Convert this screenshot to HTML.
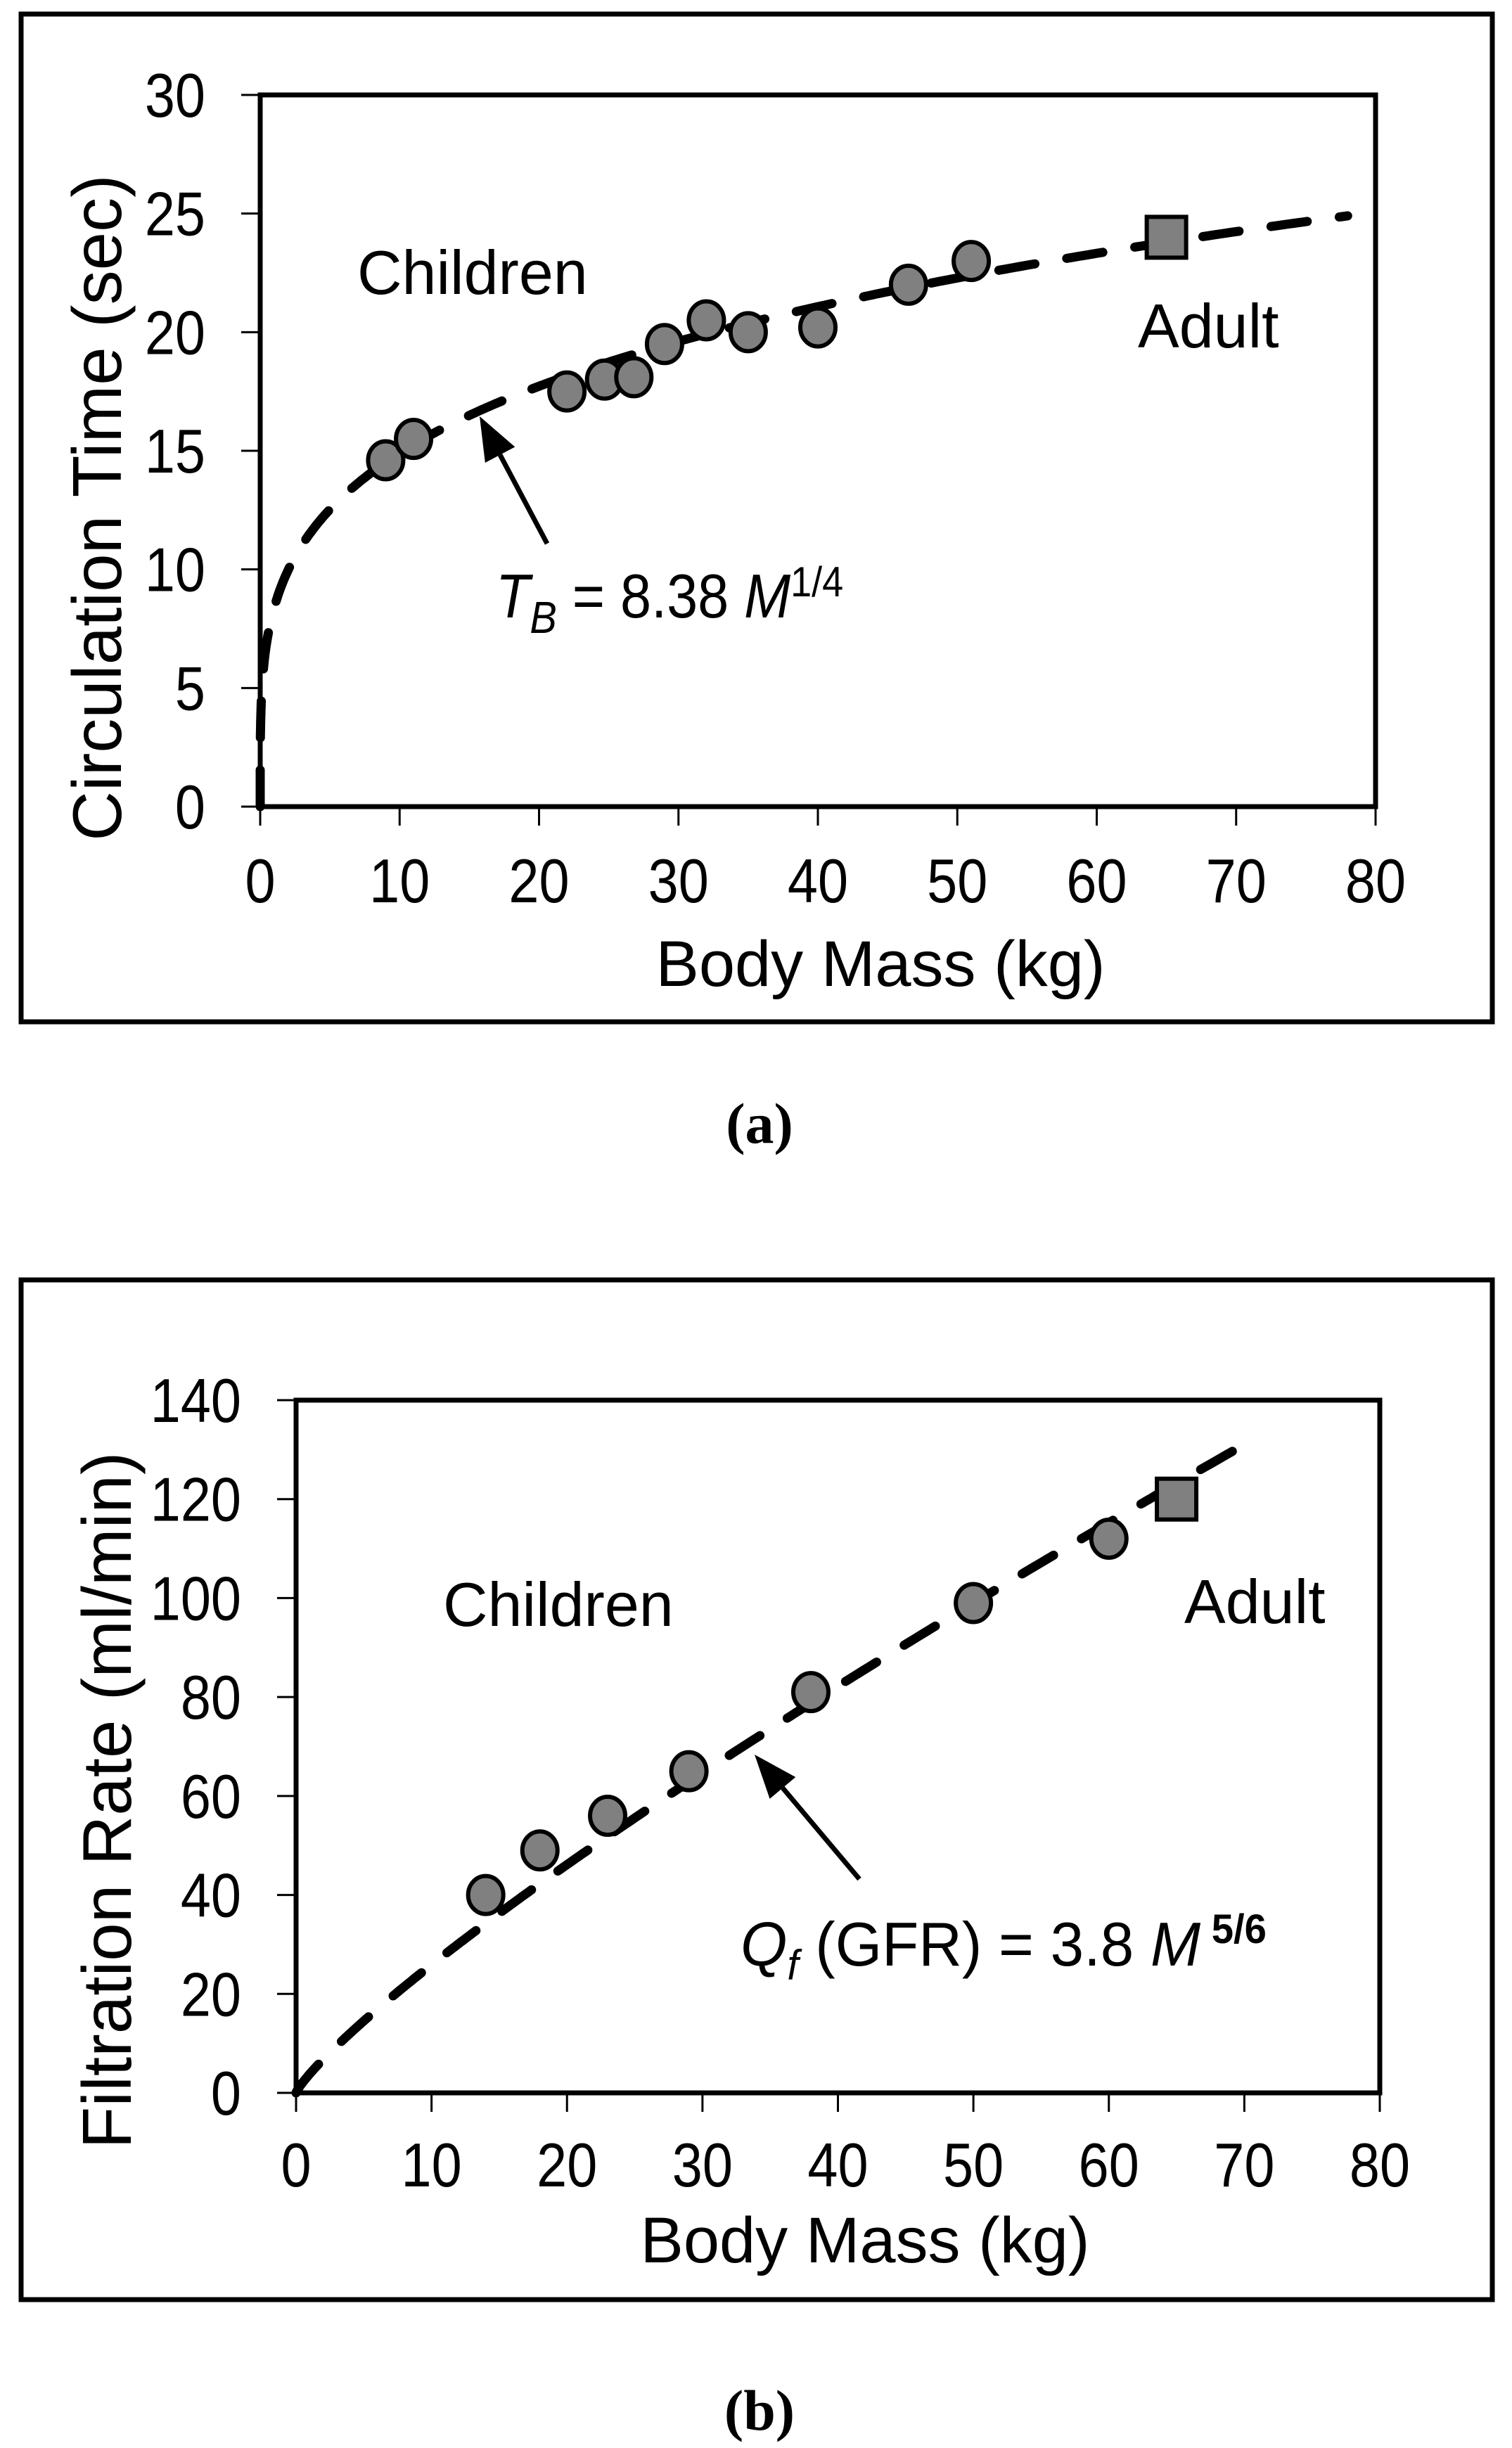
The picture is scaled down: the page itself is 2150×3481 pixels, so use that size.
<!DOCTYPE html>
<html><head><meta charset="utf-8"><style>
html,body{margin:0;padding:0;background:#fff;}
svg{display:block;}
text{font-family:"Liberation Sans",Arial,sans-serif;fill:#000;}
</style></head><body>
<svg id="fig" width="2150" height="3481" viewBox="0 0 2150 3481" xmlns="http://www.w3.org/2000/svg">
<rect x="0" y="0" width="2150" height="3481" fill="#fff"/>
<rect x="30" y="20" width="2092" height="1433" fill="none" stroke="#000" stroke-width="7"/>
<rect x="30" y="1820" width="2092" height="1450" fill="none" stroke="#000" stroke-width="7"/>
<text x="1080" y="1625" font-size="82" font-weight="bold" text-anchor="middle" style='font-family:"Liberation Serif",serif'>(a)</text>
<text x="1080" y="3455" font-size="82" font-weight="bold" text-anchor="middle" style='font-family:"Liberation Serif",serif'>(b)</text>
</svg>
<script>
// Panel A data
const aXTicks=[0,10,20,30,40,50,60,70,80];
const aYTicks=[0,5,10,15,20,25,30];
const aChildMass=[9,11,22,24.7,26.8,29,32,35,40,46.5,51];
const aChildTime=[14.6,15.5,17.5,18,18.1,19.5,20.5,20,20.2,22,23];
const aAdultMass=[65];
const aAdultTime=[24];
const aCoef=8.38, aExp=0.25, aFitMax=78;
// Panel B data
const bXTicks=[0,10,20,30,40,50,60,70,80];
const bYTicks=[0,20,40,60,80,100,120,140];
const bChildMass=[14,18,23,29,38,50,60];
const bChildRate=[40,49,56,65,81,99,112];
const bAdultMass=[65];
const bAdultRate=[120];
const bCoef=3.8, bExp=5/6, bFitMax=70;

const NS="http://www.w3.org/2000/svg";
const svg=document.getElementById('fig');
function mk(tag,attrs,parent){const e=document.createElementNS(NS,tag);for(const k in attrs)e.setAttribute(k,attrs[k]);(parent||svg).appendChild(e);return e;}

function panel(cfg){
  const {L,R,T,B,xmax,ymax,xt,yt,cx,cy,ax,ay,coef,ex,fitMax,p}=cfg;
  const X=v=>L+(R-L)*v/xmax, Y=v=>B-(B-T)*v/ymax;
  const g=mk('g',{});
  
  
  let pts=[];
  for(let i=0;i<=400;i++){const m=fitMax*Math.pow(i/400,2);pts.push(X(m).toFixed(1)+','+Y(coef*Math.pow(m,ex)).toFixed(1));}
  const c=mk('polyline',{points:pts.join(' '),fill:'none',stroke:'#000','stroke-width':13,'stroke-linecap':'round','stroke-dasharray':'52 46'},g);
  
  
  const box=mk('rect',{x:L,y:T,width:R-L,height:B-T,fill:'none',stroke:'#000','stroke-width':7},g);
  
  
  xt.forEach(v=>{
    const t=mk('line',{x1:X(v),x2:X(v),y1:B,y2:B+27,stroke:'#000','stroke-width':3},g);
    
    
    const l=mk('text',{x:0,y:0,'font-size':88,'text-anchor':'middle',transform:`translate(${X(v)},${cfg.xLabY}) scale(0.88,1)`},g);
    l.textContent=v;
    
    
  });
  yt.forEach(v=>{
    const t=mk('line',{x1:L-27,x2:L,y1:Y(v),y2:Y(v),stroke:'#000','stroke-width':3},g);
    
    
    const l=mk('text',{x:0,y:0,'font-size':88,'text-anchor':'end',transform:`translate(${L-78},${Y(v)+31}) scale(0.88,1)`},g);
    l.textContent=v;
    
    
  });
  cx.forEach((m,i)=>{
    const e=mk('ellipse',{cx:X(m),cy:Y(cy[i]),rx:25,ry:27,fill:'#808080',stroke:'#000','stroke-width':6},g);
    
    
  });
  ax.forEach((m,i)=>{
    const s=mk('rect',{x:X(m)-28,y:Y(ay[i])-29,width:56,height:58,fill:'#808080',stroke:'#000','stroke-width':6},g);
    
    
  });
  return g;
}
panel({p:'a',L:370,R:1956,T:135,B:1147,xmax:80,ymax:30,xt:aXTicks,yt:aYTicks,cx:aChildMass,cy:aChildTime,ax:aAdultMass,ay:aAdultTime,coef:aCoef,ex:aExp,fitMax:aFitMax,xLabY:1283});
panel({p:'b',L:421,R:1962,T:1991,B:2976,xmax:80,ymax:140,xt:bXTicks,yt:bYTicks,cx:bChildMass,cy:bChildRate,ax:bAdultMass,ay:bAdultRate,coef:bCoef,ex:bExp,fitMax:bFitMax,xLabY:3109});

function txt(x,y,s,name,extra,sx,fs){const t=mk('text',Object.assign({x:0,y:0,'font-size':fs||88,transform:`translate(${x},${y}) scale(${sx||1},1)`},extra||{}));t.innerHTML=s;return t;}
txt(1252,1402,'Body Mass (kg)','a-x-axis-title',{'text-anchor':'middle'},1,92);
txt(1230,3217,'Body Mass (kg)','b-x-axis-title',{'text-anchor':'middle'},1,92);
let ya=mk('text',{x:0,y:0,'font-size':98,'text-anchor':'middle',transform:'translate(172,722) rotate(-90)'});
ya.textContent='Circulation Time (sec)';


let yb=mk('text',{x:0,y:0,'font-size':98,'text-anchor':'middle','xml:space':'preserve',transform:'translate(186,2560) rotate(-90)'});
yb.textContent='Filtration  Rate  (ml/min)';


txt(508,418,'Children','a-children-label');
txt(1618,494,'Adult','a-adult-label');
txt(630,2312,'Children','b-children-label');
txt(1684,2308,'Adult','b-adult-label');
txt(705,878,'<tspan font-style="italic">T</tspan><tspan font-style="italic" font-size="64" dy="22">B</tspan><tspan dy="-22"> = 8.38 </tspan><tspan font-style="italic">M</tspan><tspan font-size="60" dy="-30">1/4</tspan>','a-formula',null,0.9);
txt(1053,2795,'<tspan font-style="italic">Q</tspan><tspan font-style="italic" font-size="60" dy="20">f</tspan><tspan dy="-20"> (GFR) = 3.8 </tspan><tspan font-style="italic">M</tspan><tspan font-size="58" font-weight="bold" dy="-32"> 5/6</tspan>','b-formula',null,0.97);
function arrow(x1,y1,x2,y2,name){
  const g=mk('g',{});
  
  
  const a=Math.atan2(y2-y1,x2-x1),hl=62,hw=24;
  const bx=x2-hl*Math.cos(a),by=y2-hl*Math.sin(a);
  mk('line',{x1:x1,y1:y1,x2:bx,y2:by,stroke:'#000','stroke-width':7},g);
  const px=-Math.sin(a)*hw,py=Math.cos(a)*hw;
  mk('polygon',{points:`${x2},${y2} ${bx+px},${by+py} ${bx-px},${by-py}`,fill:'#000'},g);
}
arrow(778,773,682,592,'a-formula-arrow');
arrow(1222,2672,1073,2495,'b-formula-arrow');
</script>
</body></html>
